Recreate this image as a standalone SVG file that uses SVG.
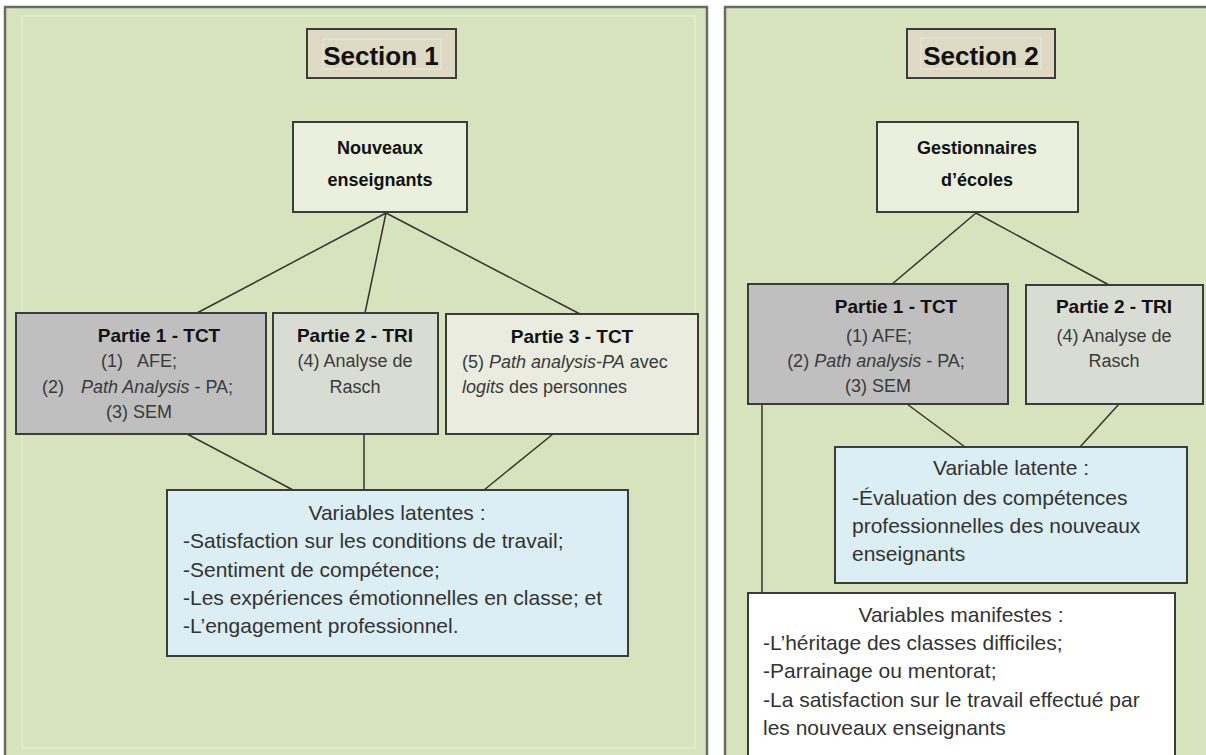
<svg xmlns="http://www.w3.org/2000/svg" width="1206" height="755" viewBox="0 0 1206 755">
<style>
.panel{fill:#d7e3bc;stroke:#6a6a6a;stroke-width:2.5}
.inner{fill:none;stroke:#e5eecf;stroke-width:1.5}
.box{stroke:#3c3c3c;stroke-width:2}
.sec{fill:#ddd9c3}
.frame{fill:none;stroke:#ebe8db;stroke-width:1}
.top{fill:#ebf0de}
.p1{fill:#bfbfbf}
.p2{fill:#d9dcd3}
.p3{fill:#e9ecdf}
.vl{fill:#dbeef4}
.vm{fill:#ffffff}
text{font-family:"Liberation Sans",Arial,sans-serif}
.t{font-size:26px;font-weight:bold;fill:#111;text-anchor:middle}
.h{font-size:18px;font-weight:bold;fill:#111;text-anchor:middle}
.b{font-size:19px;font-weight:bold;fill:#111;text-anchor:middle}
.r{font-size:18px;fill:#3a3a3a}
.c{text-anchor:middle}
.v{font-size:21px;fill:#333}
.i{font-style:italic}
.conn line{stroke:#333;stroke-width:1.5}
</style>
<rect class="panel" x="5" y="7" width="702" height="770"/>
<rect class="inner" x="22" y="16" width="673" height="732"/>
<rect class="panel" x="725" y="7" width="500" height="770"/>

<g id="connectors" class="conn">
<line x1="386" y1="213" x2="197" y2="313"/>
<line x1="386" y1="213" x2="365" y2="313"/>
<line x1="386" y1="213" x2="580" y2="314"/>
<line x1="187" y1="434" x2="293" y2="490"/>
<line x1="364" y1="434" x2="364" y2="490"/>
<line x1="553" y1="434" x2="484" y2="490"/>
<line x1="976" y1="213" x2="891" y2="285"/>
<line x1="976" y1="213" x2="1109" y2="285"/>
<line x1="907" y1="404" x2="965" y2="447"/>
<line x1="1119" y1="404" x2="1080" y2="447"/>
<line x1="762" y1="404" x2="762" y2="593"/>
</g>

<g id="section1">
<rect class="box sec" x="307" y="29" width="149" height="49"/>
<rect class="frame" x="323" y="39" width="118" height="30"/>
<text class="t" x="381" y="65">Section 1</text>
</g>

<g id="nouveaux">
<rect class="box top" x="293" y="122" width="174" height="90"/>
<text class="h" x="380" y="154">Nouveaux</text>
<text class="h" x="380" y="186">enseignants</text>
</g>

<g id="s1-partie1">
<rect class="box p1" x="16" y="313" width="250" height="121"/>
<text class="b" x="159" y="342">Partie 1 - TCT</text>
<text class="r" x="101" y="367">(1)<tspan x="137">AFE;</tspan></text>
<text class="r" x="42" y="393">(2)<tspan class="i" x="81">Path Analysis</tspan> - PA;</text>
<text class="r" x="106" y="418">(3) SEM</text>
</g>

<g id="s1-partie2">
<rect class="box p2" x="273" y="313" width="165" height="121"/>
<text class="b" x="355" y="342">Partie 2 - TRI</text>
<text class="r c" x="355" y="367">(4) Analyse de</text>
<text class="r c" x="355" y="393">Rasch</text>
</g>

<g id="s1-partie3">
<rect class="box p3" x="446" y="314" width="252" height="120"/>
<text class="b" x="572" y="343">Partie 3 - TCT</text>
<text class="r" x="462" y="368">(5) <tspan class="i">Path analysis-PA</tspan> avec</text>
<text class="r" x="462" y="393"><tspan class="i">logits</tspan> des personnes</text>
</g>

<g id="s1-latentes">
<rect class="box vl" x="167" y="490" width="461" height="166"/>
<text class="v c" x="397" y="520">Variables latentes :</text>
<text class="v" x="183" y="548">-Satisfaction sur les conditions de travail;</text>
<text class="v" x="183" y="577">-Sentiment de compétence;</text>
<text class="v" x="183" y="605">-Les expériences émotionnelles en classe; et</text>
<text class="v" x="183" y="633">-L’engagement professionnel.</text>
</g>

<g id="section2">
<rect class="box sec" x="907" y="29" width="148" height="49"/>
<rect class="frame" x="921" y="38" width="120" height="31"/>
<text class="t" x="981" y="65">Section 2</text>
</g>

<g id="gestionnaires">
<rect class="box top" x="877" y="122" width="201" height="90"/>
<text class="h" x="977" y="154">Gestionnaires</text>
<text class="h" x="977" y="186">d’écoles</text>
</g>

<g id="s2-partie1">
<rect class="box p1" x="748" y="284" width="260" height="120"/>
<text class="b" x="896" y="313">Partie 1 - TCT</text>
<text class="r c" x="879" y="342">(1) AFE;</text>
<text class="r c" x="876" y="367">(2) <tspan class="i">Path analysis</tspan> - PA;</text>
<text class="r c" x="878" y="392">(3) SEM</text>
</g>

<g id="s2-partie2">
<rect class="box p2" x="1026" y="285" width="177" height="119"/>
<text class="b" x="1114" y="313">Partie 2 - TRI</text>
<text class="r c" x="1114" y="342">(4) Analyse de</text>
<text class="r c" x="1114" y="367">Rasch</text>
</g>

<g id="s2-latente">
<rect class="box vl" x="835" y="447" width="352" height="136"/>
<text class="v c" x="1011" y="475">Variable latente :</text>
<text class="v" x="852" y="505">-Évaluation des compétences</text>
<text class="v" x="852" y="533">professionnelles des nouveaux</text>
<text class="v" x="852" y="561">enseignants</text>
</g>

<g id="s2-manifestes">
<rect class="box vm" x="748" y="593" width="427" height="180"/>
<text class="v c" x="961" y="622">Variables manifestes :</text>
<text class="v" x="763" y="650">-L’héritage des classes difficiles;</text>
<text class="v" x="763" y="678">-Parrainage ou mentorat;</text>
<text class="v" x="763" y="707">-La satisfaction sur le travail effectué par</text>
<text class="v" x="763" y="735">les nouveaux enseignants</text>
</g>
</svg>
